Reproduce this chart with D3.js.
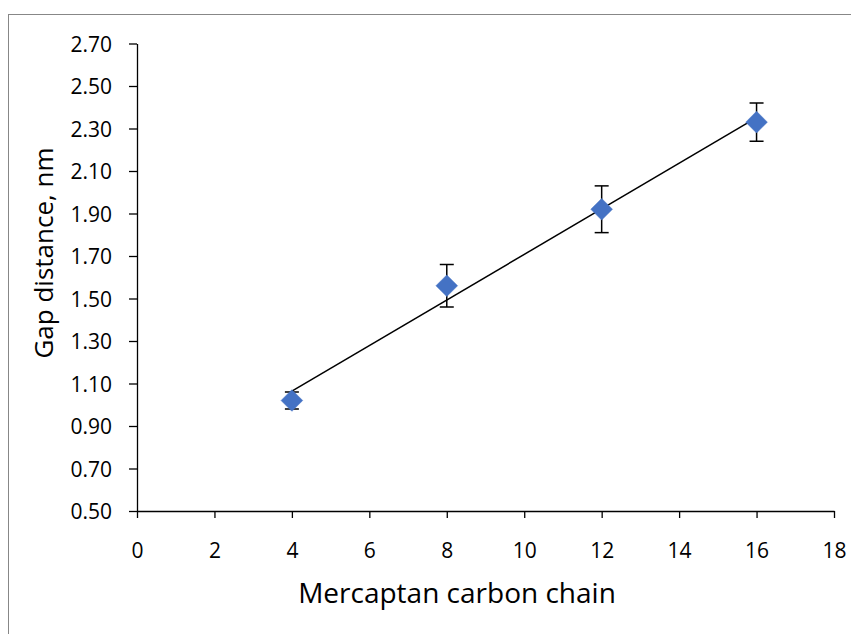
<!DOCTYPE html>
<html><head><meta charset="utf-8">
<script src="https://cdn.jsdelivr.net/npm/d3@7"></script>
<style>body{margin:0;background:#fff;} svg{display:block;}</style>
</head><body>
<script>
const chainLengths = [4, 8, 12, 16];
const gapValues = [1.02, 1.56, 1.92, 2.33];
const gapErrors = [0.04, 0.10, 0.11, 0.09];
const xTicks = [0, 2, 4, 6, 8, 10, 12, 14, 16, 18];
const yTicks = [0.50, 0.70, 0.90, 1.10, 1.30, 1.50, 1.70, 1.90, 2.10, 2.30, 2.50, 2.70];
const xTitle = "Mercaptan carbon chain";
const yTitle = "Gap distance, nm";

const W = 851, H = 634;
const font = "'Open Sans', sans-serif";
const svg = d3.select("body").append("svg").attr("width", W).attr("height", H);

// outer chart border
svg.append("rect").attr("x", 8.5).attr("y", 14.5).attr("width", 900).attr("height", 700)
  .attr("fill", "#fff").attr("stroke", "#878787").attr("stroke-width", 1);

const x = d3.scaleLinear().domain([0, 18]).range([137, 834]);
const y = d3.scaleLinear().domain([0.5, 2.7]).range([511, 43.5]);

const xAxis = svg.append("g").attr("transform", "translate(0,511)")
  .call(d3.axisBottom(x).tickValues(xTicks).tickFormat(d3.format("d")).tickSizeInner(7).tickSizeOuter(0).tickPadding(25));
const yAxis = svg.append("g").attr("transform", "translate(137,0)")
  .call(d3.axisLeft(y).tickValues(yTicks).tickFormat(d3.format(".2f")).tickSizeInner(8).tickSizeOuter(0).tickPadding(17));
[xAxis, yAxis].forEach(g => {
  g.selectAll("path,line").attr("stroke", "#000").attr("stroke-width", 1.3);
  g.selectAll("text").attr("font-family", font).attr("font-size", 21).attr("fill", "#000");
});
xAxis.selectAll("text").attr("dy", "0.71em");
yAxis.selectAll("text").attr("dy", "0.36em");

// linear regression trendline
const mx = d3.mean(chainLengths), my = d3.mean(gapValues);
const slope = d3.sum(chainLengths.map((v, i) => (v - mx) * (gapValues[i] - my))) /
  d3.sum(chainLengths.map(v => (v - mx) ** 2));
const icpt = my - slope * mx;
const x0 = d3.min(chainLengths), x1 = d3.max(chainLengths);
svg.append("line")
  .attr("x1", x(x0)).attr("y1", y(icpt + slope * x0))
  .attr("x2", x(x1)).attr("y2", y(icpt + slope * x1))
  .attr("stroke", "#000").attr("stroke-width", 1.5);

const data = chainLengths.map((c, i) => ({c, v: gapValues[i], e: gapErrors[i]}));

// error bars
const eb = svg.append("g").attr("stroke", "#000").attr("stroke-width", 1.5);
data.forEach(d => {
  eb.append("line").attr("x1", x(d.c)).attr("x2", x(d.c)).attr("y1", y(d.v + d.e)).attr("y2", y(d.v - d.e));
  [d.v + d.e, d.v - d.e].forEach(val => {
    eb.append("line").attr("x1", x(d.c) - 7).attr("x2", x(d.c) + 7).attr("y1", y(val)).attr("y2", y(val));
  });
});

// diamond markers
const sym = d3.symbol().type(d3.symbolDiamond2).size(300);
svg.append("g").selectAll("path").data(data).join("path")
  .attr("transform", d => `translate(${x(d.c)},${y(d.v)})`)
  .attr("d", sym).attr("fill", "#4472C4").attr("stroke", "#4472C4").attr("stroke-width", 0.5);

svg.append("text").attr("x", 457).attr("y", 603).attr("text-anchor", "middle")
  .attr("font-family", font).attr("font-size", 28).attr("fill", "#000").text(xTitle);
svg.append("text").attr("transform", "translate(53,253) rotate(-90)").attr("text-anchor", "middle")
  .attr("font-family", font).attr("font-size", 26).attr("fill", "#000").text(yTitle);
</script>
</body></html>
